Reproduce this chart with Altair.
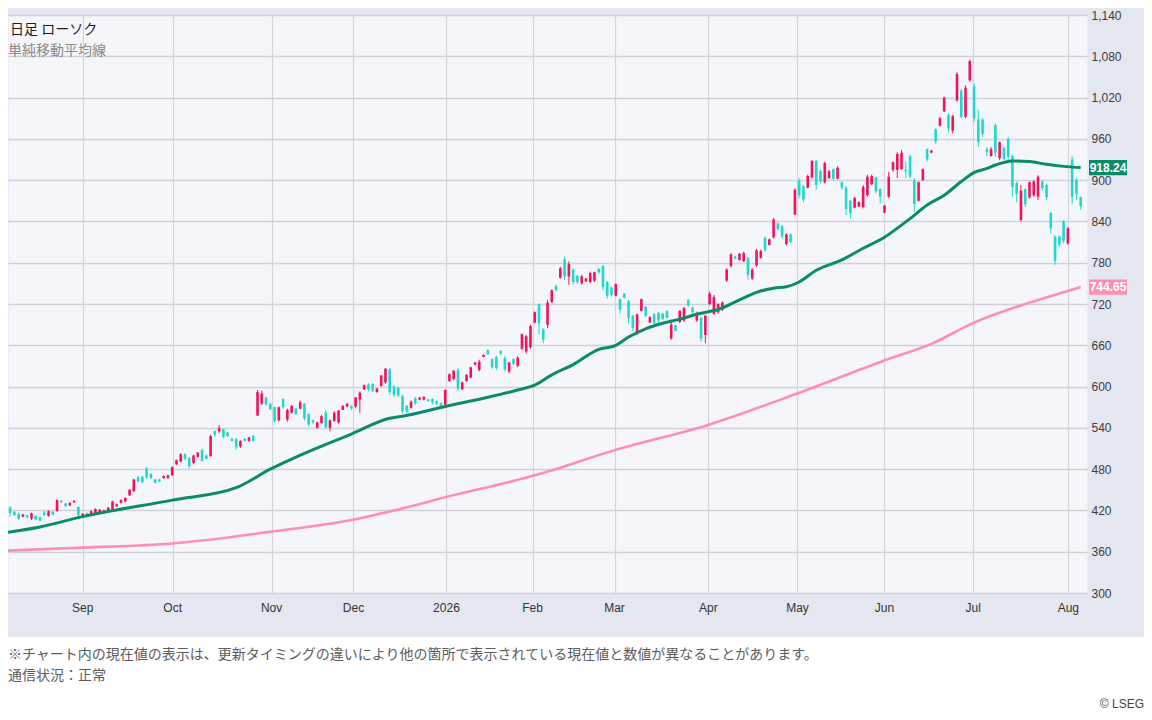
import altair as alt
import pandas as pd

# ---- candle data ----
opens = [431, 424, 418, 415, 411, 413, 408, 412, 410, 417,
         412, 418, 419, 434, 430, 427, 432, 425, 412, 416,
         414, 416, 416, 416, 419, 421, 426, 431, 433, 442,
         448, 468, 469, 481, 473, 465, 465, 467, 467, 471,
         487, 491, 502, 496, 489, 498, 508, 500, 499, 535,
         535, 538, 533, 524, 524, 513, 524, 521, 528, 558,
         575, 584, 575, 570, 551, 582, 552, 562, 568, 568,
         575, 560, 551, 540, 547, 562, 540, 550, 548, 566,
         571, 571, 571, 581, 596, 603, 604, 592, 601, 606,
         625, 600, 598, 586, 572, 569, 583, 581, 581, 581,
         582, 579, 576, 574, 608, 611, 624, 596, 608, 613,
         632, 624, 643, 653, 640, 643, 652, 642, 622, 640,
         630, 655, 651, 657, 693, 720, 683, 690, 723, 746,
         758, 785, 760, 770, 761, 750, 753, 752, 754, 771,
         775, 752, 744, 732, 727, 735, 724, 703, 678, 710,
         716, 693, 705, 707, 706, 710, 670, 689, 694, 696,
         726, 715, 696, 700, 675, 720, 706, 708, 712, 754,
         775, 789, 784, 782, 787, 757, 776, 787, 816, 806,
         817, 837, 833, 807, 821, 850, 900, 891, 889, 904,
         928, 913, 897, 903, 916, 902, 897, 889, 870, 860,
         862, 861, 878, 894, 904, 887, 853, 876, 915, 915,
         916, 915, 935, 900, 870, 900, 945, 940, 974, 979,
         1000, 995, 972, 1016, 1030, 992, 1045, 1036, 988, 988,
         945, 935, 980, 932, 947, 960, 935, 896, 842, 887,
         875, 878, 876, 898, 893, 852, 818, 818, 840, 808,
         930, 900, 875]
highs = [433, 426, 419, 417, 415, 414, 417, 413, 412, 419,
         420, 419, 436, 435, 431, 432, 435, 426, 416, 417,
         420, 423, 422, 421, 425, 434, 430, 436, 439, 451,
         466, 470, 470, 483, 474, 466, 466, 471, 472, 484,
         494, 503, 503, 497, 501, 505, 510, 501, 530, 537,
         544, 539, 534, 525, 525, 522, 525, 527, 530, 595,
         594, 585, 576, 571, 571, 583, 568, 573, 569, 580,
         576, 561, 552, 549, 559, 566, 552, 564, 566, 573,
         576, 573, 585, 593, 603, 605, 605, 598, 617, 627,
         627, 602, 600, 588, 573, 580, 585, 585, 586, 582,
         583, 580, 577, 596, 619, 624, 627, 607, 618, 629,
         636, 639, 647, 654, 641, 645, 653, 644, 636, 641,
         644, 677, 675, 690, 709, 721, 685, 726, 741, 748,
         774, 789, 782, 772, 762, 762, 758, 767, 767, 772,
         777, 753, 745, 750, 728, 736, 726, 704, 706, 728,
         717, 702, 707, 709, 707, 711, 697, 690, 711, 716,
         727, 716, 709, 702, 704, 738, 733, 721, 724, 772,
         794, 790, 794, 796, 789, 772, 800, 799, 818, 815,
         845, 838, 835, 823, 823, 888, 903, 893, 908, 929,
         929, 915, 927, 915, 917, 920, 898, 891, 871, 876,
         869, 893, 908, 908, 905, 888, 864, 912, 927, 941,
         944, 927, 937, 903, 898, 917, 946, 944, 975, 992,
         1021, 997, 995, 1057, 1033, 1038, 1075, 1040, 1002, 990,
         948, 948, 982, 956, 949, 963, 937, 898, 893, 888,
         898, 900, 907, 900, 895, 854, 820, 820, 842, 832,
         935, 903, 876]
lows = [423, 411, 412, 406, 410, 408, 406, 406, 404, 412,
        411, 413, 418, 431, 425, 427, 431, 412, 412, 412,
        413, 415, 415, 415, 418, 420, 425, 430, 432, 441,
        447, 461, 459, 466, 466, 459, 461, 466, 466, 470,
        486, 490, 493, 481, 487, 497, 491, 494, 498, 527,
        532, 525, 527, 520, 508, 511, 520, 520, 520, 557,
        573, 572, 566, 547, 549, 568, 549, 561, 559, 567,
        551, 542, 546, 539, 546, 539, 535, 549, 546, 566,
        570, 566, 569, 562, 595, 593, 592, 591, 600, 604,
        588, 585, 585, 561, 561, 568, 573, 580, 580, 578,
        574, 573, 570, 573, 607, 609, 593, 595, 607, 612,
        631, 622, 643, 646, 626, 624, 646, 622, 619, 631,
        628, 653, 648, 655, 692, 676, 663, 685, 721, 738,
        757, 755, 748, 748, 749, 748, 752, 750, 752, 764,
        740, 728, 731, 731, 706, 728, 692, 680, 675, 709,
        701, 692, 689, 692, 697, 699, 668, 680, 692, 694,
        716, 706, 694, 665, 663, 718, 704, 706, 710, 752,
        773, 785, 783, 781, 755, 755, 774, 786, 796, 805,
        815, 827, 815, 805, 808, 849, 873, 868, 888, 902,
        886, 895, 895, 902, 900, 901, 886, 849, 844, 859,
        861, 859, 876, 893, 881, 866, 852, 874, 912, 903,
        915, 903, 903, 854, 869, 899, 927, 939, 953, 978,
        999, 970, 968, 1014, 990, 990, 1043, 985, 948, 963,
        934, 934, 934, 929, 929, 929, 876, 868, 840, 861,
        873, 876, 871, 885, 871, 822, 777, 803, 808, 806,
        866, 871, 857]
closes = [425, 416, 413, 408, 414, 410, 416, 407, 405, 413,
          419, 414, 435, 432, 426, 431, 434, 413, 415, 413,
          419, 422, 421, 420, 424, 433, 429, 435, 438, 450,
          465, 462, 461, 468, 467, 460, 462, 470, 471, 483,
          493, 502, 495, 484, 500, 504, 492, 495, 528, 530,
          540, 527, 528, 521, 512, 521, 521, 526, 521, 592,
          590, 574, 567, 550, 570, 570, 566, 572, 560, 577,
          554, 545, 548, 548, 557, 541, 551, 562, 565, 572,
          575, 568, 584, 591, 602, 596, 594, 597, 616, 626,
          592, 588, 587, 564, 564, 578, 576, 584, 585, 579,
          577, 575, 572, 595, 618, 623, 597, 606, 617, 628,
          635, 636, 646, 647, 628, 627, 648, 625, 635, 633,
          642, 676, 673, 688, 708, 692, 668, 722, 740, 740,
          772, 760, 778, 752, 752, 760, 757, 765, 766, 766,
          745, 732, 733, 749, 712, 729, 700, 685, 705, 727,
          703, 701, 692, 696, 698, 700, 690, 681, 710, 714,
          718, 708, 707, 670, 703, 735, 730, 720, 722, 770,
          792, 786, 793, 794, 762, 770, 798, 797, 798, 814,
          843, 829, 818, 821, 810, 886, 878, 872, 906, 928,
          893, 898, 925, 913, 902, 918, 889, 858, 852, 874,
          868, 890, 905, 906, 884, 876, 863, 905, 926, 938,
          940, 913, 905, 865, 897, 916, 930, 943, 956, 990,
          1020, 975, 993, 1054, 992, 1034, 1073, 990, 955, 967,
          941, 945, 940, 955, 931, 934, 890, 880, 885, 865,
          897, 898, 905, 888, 875, 830, 783, 806, 812, 830,
          876, 880, 862]

# ---- moving averages (read at points along the lines) ----
ma_short_idx = [0, 8, 18, 39, 54, 62, 70, 81, 90, 93,
                103, 112, 120, 124, 128, 133, 139, 143, 146, 150,
                154, 158, 162, 165, 167, 172, 176, 180, 183, 186,
                190, 196, 201, 206, 209, 212, 216, 220, 224, 227,
                230, 232, 236, 240, 244, 248, 252]
ma_short_val = [388, 396, 411, 435, 453, 480, 503, 531, 554, 557,
                571, 583, 595, 602, 617, 632, 654, 660, 672, 684,
                692, 698, 705, 709, 712, 726, 737, 743, 745, 752,
                769, 784, 801, 817, 830, 844, 864, 878, 898, 911,
                917, 922, 928, 927, 923, 920, 918.24]
ma_long_idx = [0, 18, 39, 62, 81, 93, 103, 124, 143, 165, 186, 206, 217, 227, 240, 249, 252]
ma_long_val = [361.5, 366, 372, 389, 406, 423, 439, 471, 508, 545, 591, 638, 662, 693, 722, 739, 744.65]

# ---- axis / text content ----
month_pos = [18.0, 39.1, 62.3, 81.5, 103.3, 123.5, 142.7, 164.7, 185.6, 206.0, 226.8, 249.1]
month_names = ["Sep", "Oct", "Nov", "Dec", "2026", "Feb", "Mar", "Apr", "May", "Jun", "Jul", "Aug"]
y_ticks = [300, 360, 420, 480, 540, 600, 660, 720, 780, 840, 900, 960, 1020, 1080, 1140]
last_values = [918.24, 744.65]
title_main = "日足 ローソク"
title_sub = "単純移動平均線"
footer_1 = "※チャート内の現在値の表示は、更新タイミングの違いにより他の箇所で表示されている現在値と数値が異なることがあります。"
footer_2 = "通信状況：正常"
credit = "© LSEG"

W, H = 1079, 578
UP, DOWN = "#f5105a", "#1ed8cf"
GREEN, PINK = "#0b8c69", "#ff8fb1"
JP = "Noto Sans CJK JP"
LAT = "Liberation Sans"

candles = pd.DataFrame({
    "i": list(range(len(opens))),
    "o": opens,
    "h": [max(h, o, c) for h, o, c in zip(highs, opens, closes)],
    "l": [min(l, o, c) for l, o, c in zip(lows, opens, closes)],
    "c": closes,
})
candles["dir"] = ["up" if c >= o else "down" for o, c in zip(opens, closes)]

xs = alt.Scale(domain=[1.672, 252.31], nice=False, zero=False)
ys = alt.Scale(domain=[300, 1140], nice=False, zero=False)
x_axis = alt.Axis(values=month_pos, grid=True, gridColor="#d3d4df", gridWidth=1.2,
                  labels=False, ticks=False, domain=False, title=None)
y_axis = alt.Axis(orient="right", values=y_ticks, format=",.0f", grid=True,
                  gridColor="#d0d1dd", gridWidth=1.4, ticks=False, domain=False,
                  labelPadding=4, labelFont=LAT, labelFontSize=12, labelColor="#3c3c3c",
                  labelAlign="left", labelBaseline="middle", labelOverlap=False, title=None)


def X(f):
    return alt.X(f"{f}:Q", scale=xs, axis=x_axis)


def Y(f):
    return alt.Y(f"{f}:Q", scale=ys, axis=y_axis)


color = alt.Color("dir:N", scale=alt.Scale(domain=["up", "down"], range=[UP, DOWN]), legend=None)

one = pd.DataFrame({"k": [0]})
footer_bg = alt.Chart(one).mark_rect(color="#ffffff").encode(
    x=alt.value(0), x2=alt.value(1136), y=alt.value(622), y2=alt.value(700))

wicks = alt.Chart(candles).mark_rule(strokeWidth=1).encode(
    x=X("i"), y=Y("l"), y2=alt.Y2("h:Q"), color=color)
bodies = alt.Chart(candles).mark_bar(size=2.6).encode(
    x=X("i"), y=Y("o"), y2=alt.Y2("c:Q"), color=color)

ma_long = alt.Chart(pd.DataFrame({"i": ma_long_idx, "v": ma_long_val})).mark_line(
    color=PINK, strokeWidth=2.6, interpolate="monotone").encode(x=X("i"), y=Y("v"))
ma_short = alt.Chart(pd.DataFrame({"i": ma_short_idx, "v": ma_short_val})).mark_line(
    color=GREEN, strokeWidth=3, interpolate="monotone").encode(x=X("i"), y=Y("v"))

lab_df = pd.DataFrame({"v": last_values, "t": [f"{v:.2f}" for v in last_values],
                       "col": [GREEN, PINK]})
boxes = alt.Chart(lab_df).mark_point(
    shape="M-1,-0.4L1,-0.4L1,0.4L-1,0.4Z", size=1444, filled=True, opacity=1,
    strokeWidth=0).encode(x=alt.value(1100), y=Y("v"), color=alt.Color("col:N", scale=None))
box_txt = alt.Chart(lab_df).mark_text(font=LAT, fontSize=12, fontWeight="bold",
                                      color="#ffffff", align="center", baseline="middle").encode(
    x=alt.value(1100), y=Y("v"), text="t:N")

mlab = alt.Chart(pd.DataFrame({"i": month_pos, "name": month_names})).mark_text(
    font=LAT, fontSize=12, color="#333333", baseline="middle", align="center").encode(
    x=X("i"), y=alt.value(593), text="name:N")


def txt(s, x, y, size, col, font=JP, align="left"):
    return alt.Chart(pd.DataFrame({"t": [s]})).mark_text(
        font=font, fontSize=size, color=col, align=align, baseline="middle").encode(
        x=alt.value(x), y=alt.value(y), text="t:N")


t1 = txt(title_main, 2, 15, 14, "#1e1e1e")
t2 = txt(title_sub, 0, 36, 14, "#8a8a8a")
f1 = txt(footer_1, 0, 640, 14, "#5c5c5c")
f2 = txt(footer_2, 0, 661, 14, "#5c5c5c")
f3 = txt(credit, 1136, 689, 12, "#444444", font=LAT, align="right")

chart = alt.layer(
    footer_bg, wicks, bodies, ma_long, ma_short, boxes, box_txt, mlab, t1, t2, f1, f2, f3
).properties(
    width=W, height=H,
    autosize=alt.AutoSizeParams(type="none"),
    padding={"left": 0, "top": 7, "right": 57, "bottom": 119},
    background="#e4e7ef",
).configure_view(fill="#f5f6f9", stroke="transparent")

chart.save("out.html", embed_options={"renderer": "svg", "actions": False})
